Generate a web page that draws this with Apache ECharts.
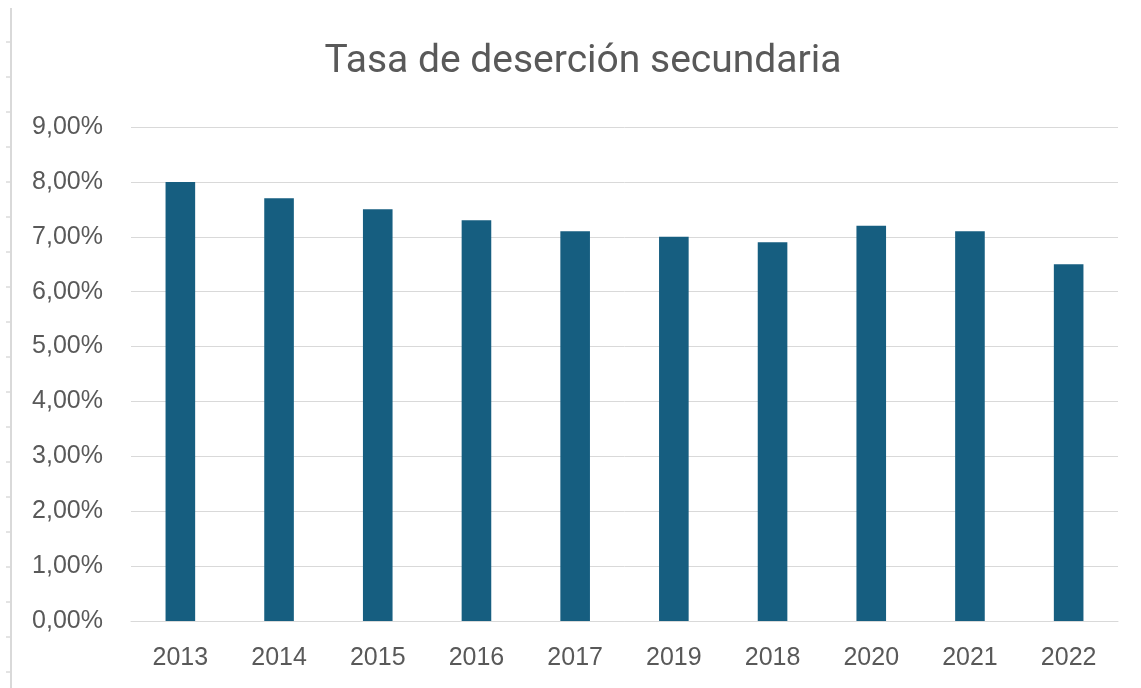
<!DOCTYPE html>
<html>
<head>
<meta charset="utf-8">
<script src="https://cdn.jsdelivr.net/npm/echarts@6/dist/echarts.min.js"></script>
<style>
  html, body { margin: 0; padding: 0; background: #fff; }
  #main { width: 1141px; height: 688px; }
</style>
</head>
<body>
<div id="main"></div>
<script>
var years = ['2013', '2014', '2015', '2016', '2017', '2019', '2018', '2020', '2021', '2022'];
var tasa = [8.0, 7.7, 7.5, 7.3, 7.1, 7.0, 6.9, 7.2, 7.1, 6.5];
var yMin = 0, yMax = 9, yStep = 1;

var myChart = echarts.init(document.getElementById('main'));

// borde de la hoja a la izquierda (decorativo)
var edge = [{
    type: 'line',
    shape: { x1: 11, y1: 8, x2: 11, y2: 688 },
    style: { stroke: '#d9d9d9', lineWidth: 2 }
}];
for (var k = 0; k < 19; k++) {
    edge.push({
        type: 'line',
        shape: { x1: 6, y1: 42 + k * 35, x2: 10, y2: 42 + k * 35 },
        style: { stroke: '#c8c8c8', lineWidth: 1 }
    });
}

var option = {
    animation: false,
    backgroundColor: '#fff',
    title: {
        text: 'Tasa de deserción secundaria',
        left: 578,
        top: 38,
        textAlign: 'center',
        textStyle: {
            fontFamily: 'Roboto',
            fontSize: 39,
            fontWeight: 'normal',
            color: '#595959'
        }
    },
    graphic: edge,
    grid: {
        left: 131,
        right: 23,
        top: 127,
        bottom: 67,
        containLabel: false
    },
    xAxis: {
        type: 'category',
        data: years,
        axisTick: { show: false },
        axisLine: { lineStyle: { color: '#d9d9d9', width: 1 } },
        axisLabel: {
            margin: 25,
            fontFamily: 'Liberation Sans',
            fontSize: 25,
            color: '#595959'
        }
    },
    yAxis: {
        type: 'value',
        min: yMin,
        max: yMax,
        interval: yStep,
        axisLine: { show: false },
        axisTick: { show: false },
        splitLine: { lineStyle: { color: '#d9d9d9', width: 1 } },
        axisLabel: {
            margin: 28,
            fontFamily: 'Liberation Sans',
            fontSize: 25,
            color: '#595959',
            formatter: function (v) { return v.toFixed(2).replace('.', ',') + '%'; }
        }
    },
    series: [{
        type: 'bar',
        data: tasa,
        barWidth: '30%',
        itemStyle: { color: '#165e80' }
    }]
};

myChart.setOption(option);
</script>
</body>
</html>
